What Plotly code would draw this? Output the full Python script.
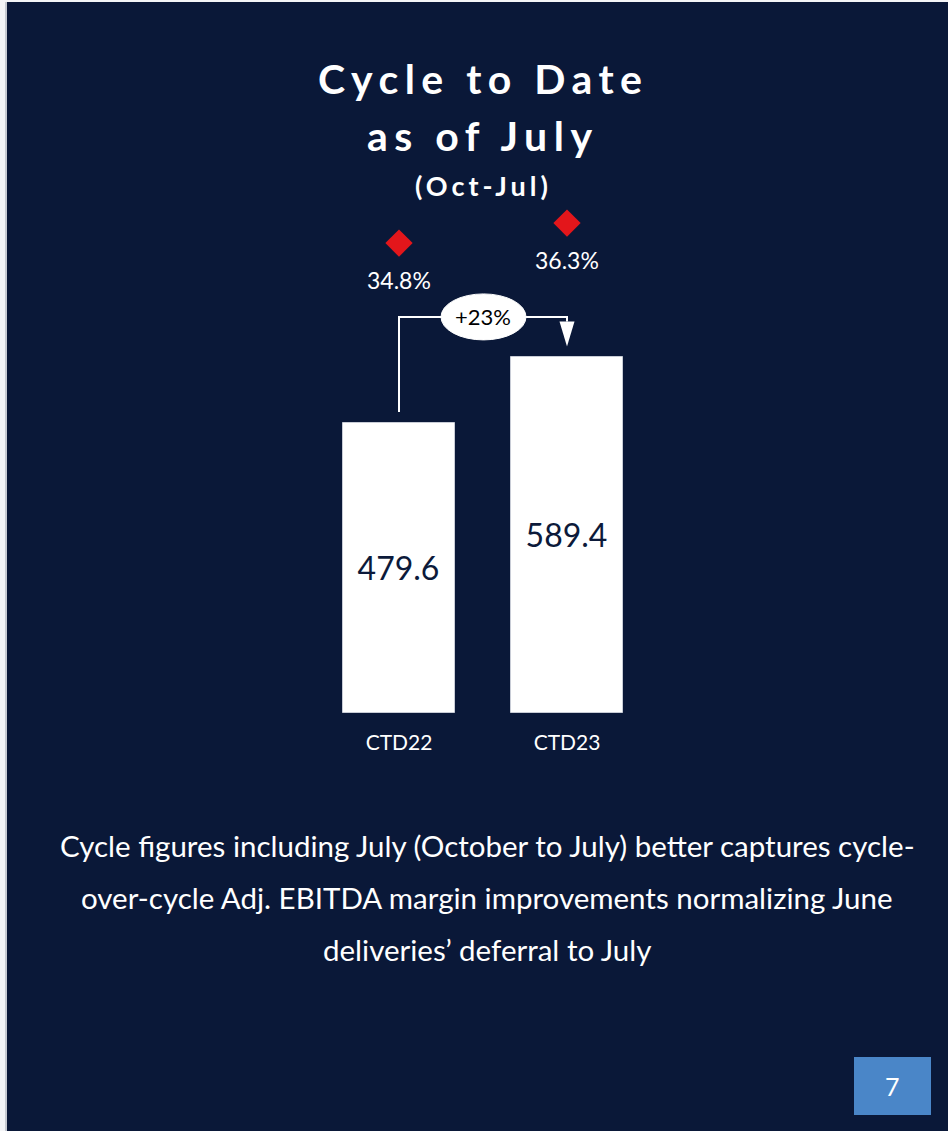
import plotly.graph_objects as go

# ---- data ----
categories = ["CTD22", "CTD23"]
adj_ebitda = [479.6, 589.4]          # Adj. EBITDA, cycle to date
ebitda_margin = [34.8, 36.3]         # Adj. EBITDA margin, %
body_lines = [
    "Cycle figures including July (October to July) better captures cycle-",
    "over-cycle Adj. EBITDA margin improvements normalizing June",
    "deliveries\u2019 deferral to July",
]
page_number = "7"

# ---- styling ----
W, H = 948, 1131
NAVY = "#0a1838"
RED = "#e3161b"
BLUE_BOX = "#4a86c8"
FONT = "Lato, Carlito, 'Open Sans', sans-serif"

# plot area geometry (pixels from top-left)
px_left, px_right = 315, 651
px_top, px_base = 200, 713
px_per_unit = 0.6047                 # bar axis scale
px_per_pct = 13.33                   # margin axis scale
y_max = (px_base - px_top) / px_per_unit
m_lo = -0.45
m_hi = m_lo + (px_base - px_top) / px_per_pct

growth = (adj_ebitda[1] / adj_ebitda[0] - 1) * 100
bracket_y = 655                      # level of the growth connector (bar units)
gap1 = 11 / px_per_unit
gap2 = 10 / px_per_unit

fig = go.Figure()

fig.add_trace(go.Bar(
    x=[0, 1], y=adj_ebitda,
    width=0.667,
    marker=dict(color="white", line=dict(color="#c8ccd6", width=1)),
    text=[f"{v:.1f}" for v in adj_ebitda],
    textposition="inside", insidetextanchor="middle",
    textfont=dict(family=FONT, size=32, color="#0c1a3a"),
    hoverinfo="skip", showlegend=False,
))

fig.add_trace(go.Scatter(
    x=[0, 1], y=ebitda_margin, yaxis="y2",
    mode="markers",
    marker=dict(symbol="diamond", size=21, color=RED),
    hoverinfo="skip", showlegend=False,
))

annotations = []
for i, v in enumerate(ebitda_margin):
    annotations.append(dict(
        x=i, y=v, xref="x", yref="y2", yshift=-37,
        xanchor="center", yanchor="middle",
        text=f"{v:.1f}%", showarrow=False,
        font=dict(family=FONT, size=23, color="white"),
    ))

# growth connector
shapes = [
    dict(type="path", xref="x", yref="y",
         path=f"M 0 {adj_ebitda[0] + gap1} L 0 {bracket_y} L 1 {bracket_y} L 1 {adj_ebitda[1] + gap2 + 25 / px_per_unit}",
         line=dict(color="white", width=2)),
    dict(type="path", xref="x", yref="y",
         path=(f"M {1 - 7.5 / 168} {adj_ebitda[1] + gap2 + 25 / px_per_unit} "
               f"L {1 + 7.5 / 168} {adj_ebitda[1] + gap2 + 25 / px_per_unit} "
               f"L 1 {adj_ebitda[1] + gap2} Z"),
         fillcolor="white", line=dict(color="white", width=0)),
    dict(type="circle", xref="x", yref="y",
         xsizemode="pixel", ysizemode="pixel",
         xanchor=0.5, yanchor=bracket_y,
         x0=-42, x1=43, y0=-23, y1=23,
         fillcolor="white", line=dict(color="white", width=1)),
]
annotations.append(dict(
    x=0.5, y=bracket_y, xref="x", yref="y",
    xanchor="center", yanchor="middle",
    text=f"+{growth:.0f}%", showarrow=False,
    font=dict(family=FONT, size=22, color="black"),
))

# page background panel
shapes.insert(0, dict(type="rect", xref="paper", yref="paper", layer="below",
                      x0=7 / W, x1=1, y0=0, y1=1 - 2 / H,
                      fillcolor=NAVY, line=dict(width=0)))
shapes.insert(1, dict(type="line", xref="paper", yref="paper", layer="below",
                      x0=6 / W, x1=6 / W, y0=0, y1=1 - 2 / H,
                      line=dict(color="#9aa0ad", width=1)))

# page number box
shapes.append(dict(type="rect", xref="paper", yref="paper",
                   x0=854 / W, x1=931 / W, y0=1 - 1115 / H, y1=1 - 1057 / H,
                   fillcolor=BLUE_BOX, line=dict(width=0)))
annotations.append(dict(
    x=892.5 / W, y=1 - 1086 / H, xref="paper", yref="paper",
    xanchor="center", yanchor="middle",
    text=page_number, showarrow=False,
    font=dict(family=FONT, size=25, color="white"),
))

# title block
title_rows = [
    ("Cycle to Date", 78, 41, 6.5, 483),
    ("as of July", 135, 41, 6.5, 483),
    ("(Oct-Jul)", 186, 27, 4, 483),
]
for txt, yc, size, spacing, xc in title_rows:
    annotations.append(dict(
        x=xc / W, y=1 - yc / H, xref="paper", yref="paper",
        xanchor="center", yanchor="middle",
        text=f"<b><span style='letter-spacing:{spacing}px'>{txt}</span></b>",
        showarrow=False,
        font=dict(family=FONT, size=size, color="white"),
    ))

# explanatory text
for k, line in enumerate(body_lines):
    annotations.append(dict(
        x=487 / W, y=1 - (845 + 52 * k) / H, xref="paper", yref="paper",
        xanchor="center", yanchor="middle",
        text=line, showarrow=False,
        font=dict(family=FONT, size=29.5, color="white"),
    ))

fig.update_layout(
    width=W, height=H,
    margin=dict(l=0, r=0, t=0, b=0),
    paper_bgcolor="#f4f5f7",
    plot_bgcolor="rgba(0,0,0,0)",
    xaxis=dict(
        domain=[px_left / W, px_right / W],
        range=[-0.5, 1.5],
        tickmode="array", tickvals=[0, 1], ticktext=categories,
        tickfont=dict(family=FONT, size=21, color="white"),
        showgrid=False, zeroline=False, showline=False, ticks="",
        ticklabelstandoff=15,
    ),
    yaxis=dict(
        domain=[1 - px_base / H, 1 - px_top / H],
        range=[0, y_max],
        visible=False,
    ),
    yaxis2=dict(
        domain=[1 - px_base / H, 1 - px_top / H],
        overlaying="y",
        range=[m_lo, m_hi],
        visible=False,
    ),
    shapes=shapes,
    annotations=annotations,
    bargap=0,
)

fig.write_html("out.html")
